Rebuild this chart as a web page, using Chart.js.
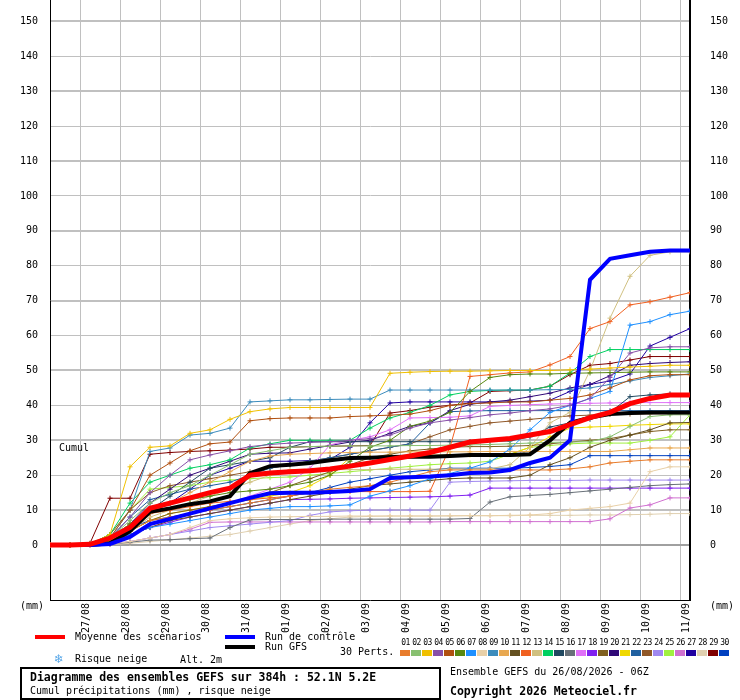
<!DOCTYPE html>
<html><head><meta charset="utf-8">
<script src="https://cdn.jsdelivr.net/npm/chart.js@4.4.1/dist/chart.umd.min.js"></script>
<style>
html,body{margin:0;padding:0;background:#fff;}
#wrap{position:relative;width:740px;height:700px;overflow:hidden;font-family:"DejaVu Sans Mono","Liberation Mono",monospace;font-size:10px;color:#000;background:#fff;}
#c{position:absolute;left:0;top:0;}
.t{position:absolute;white-space:nowrap;line-height:10px;}
.ln{position:absolute;height:4px;width:30px;}
.b{font-weight:bold;font-size:11.5px;line-height:12px;}
#nums{position:absolute;left:400px;top:639px;display:flex;}
#nums div{width:11px;text-align:center;font-size:8px;line-height:8px;letter-spacing:-0.6px;}
#boxes{position:absolute;left:400px;top:650px;display:flex;}
#boxes div{width:10px;height:6px;margin-right:1px;}
#frame{position:absolute;left:20px;top:667px;width:421px;height:33px;box-sizing:border-box;border:2px solid #000;}
</style></head><body>
<div id="wrap">
<canvas id="c" width="740" height="700" style="width:740px;height:700px"></canvas>
<div class="t" style="left:59px;top:443px">Cumul</div>
<div class="t" style="left:20px;top:601px">(mm)</div>
<div class="t" style="left:710px;top:601px">(mm)</div>
<div class="ln" style="left:35px;top:635px;background:#ff0000"></div>
<div class="t" style="left:75px;top:632px">Moyenne des scénarios</div>
<div class="ln" style="left:225px;top:635px;background:#0000ff"></div>
<div class="t" style="left:265px;top:632px">Run de contrôle</div>
<div class="ln" style="left:225px;top:645px;background:#000000"></div>
<div class="t" style="left:265px;top:642px">Run GFS</div>
<div class="t" style="left:340px;top:647px">30 Perts.</div>
<div class="t" style="left:54px;top:653px;font-family:'DejaVu Sans';font-size:12px;line-height:12px;color:#5aa8e8">❄</div>
<div class="t" style="left:75px;top:654px">Risque neige</div>
<div class="t" style="left:180px;top:655px">Alt. 2m</div>
<div id="nums"></div>
<div id="boxes"></div>
<div id="frame"></div>
<div class="t b" style="left:30px;top:671px">Diagramme des ensembles GEFS sur 384h : 52.1N 5.2E</div>
<div class="t" style="left:30px;top:686px">Cumul précipitations (mm) , risque neige</div>
<div class="t" style="left:450px;top:667px">Ensemble GEFS du 26/08/2026 - 06Z</div>
<div class="t b" style="left:450px;top:685px">Copyright 2026 Meteociel.fr</div>
</div>
<script>
const hours=[0,12,24,36,48,60,72,84,96,108,120,132,144,156,168,180,192,204,216,228,240,252,264,276,288,300,312,324,336,348,360,372,384];
const dayTicks=[18,42,66,90,114,138,162,186,210,234,258,282,306,330,354,378];
const dayLabels=['27/08','28/08','29/08','30/08','31/08','01/09','02/09','03/09','04/09','05/09','06/09','07/09','08/09','09/09','10/09','11/09'];
const yTicks=[0,10,20,30,40,50,60,70,80,90,100,110,120,130,140,150];
const memberNames=['01','02','03','04','05','06','07','08','09','10','11','12','13','14','15','16','17','18','19','20','21','22','23','24','25','26','27','28','29','30'];
const memberColors=['#e87c2c','#88c070','#f0c000','#8850a8','#b05010','#588810','#1e90ff','#e8d0a8','#3c8cbc','#e8a850','#645020','#f06020','#d0c080','#00d060','#204860','#687078','#e070f8','#8020f0','#806020','#300878','#f0d800','#2060a0','#905828','#a088f0','#a0f040','#d070d0','#2000a0','#e0d0b0','#800000','#0040c0'];

const meanVals=[0,0,0.2,2,5,10.5,12,13.5,15,16.3,20,20.6,21,21.3,21.8,22.6,23.5,24.5,25.5,26.5,28,29.5,30,30.5,31.5,32.5,34.5,36.5,38,40.5,42,43,43];
const ctrlVals=[0,0,0,0.3,2.3,6,7.5,9,10.5,12,13.5,14.8,15,15,15.2,15.5,16,19.2,19.4,19.6,20,20.6,20.8,21.5,23.5,25,30,76,82,83,84,84.4,84.4];
const gfsVals=[0,0,0,0.5,4,9.5,10.5,11.7,12.5,14,20.6,22.6,23,23.5,24.3,24.9,25,25.2,25.3,25.3,25.5,25.8,25.8,25.8,26,30,35,36.5,37.5,37.8,38,38,38];

const m01=[0,0,0.2,1,4,7,8,9,10,11,12,13,14,15,16,16.5,17,18,19.5,21,21.5,21.5,21.5,21.5,21.5,21.5,21.8,22.4,23.5,24,24.4,24.4,24.4];
const m02=[0,0,0.3,2,7,12,15,17,20,23,26,27,28,28.2,28.3,28.4,28.4,28.4,28.5,28.5,28.6,28.7,28.8,29,29.2,29.4,29.5,29.6,31,34,36.8,37.3,37.3];
const m03=[0,0,0.3,3,22.4,28,28.4,32,33,36,38.2,39,39.4,39.4,39.4,39.4,39.4,49.2,49.5,49.7,49.8,49.8,49.9,50,50,50,50.2,50.4,50.7,51,51.2,51.5,51.5];
const m04=[0,0,0.3,2,8,15,20,24.4,25.8,27,28.2,28.8,29.2,29.4,29.6,30,30.5,31.5,33.5,35,35.8,36.5,37.3,37.8,38.5,39,40,42,48,55,56.5,56.8,56.8];
const m05=[0,0,0.3,2,10,20,23.5,27,29,29.5,35.6,36.2,36.4,36.4,36.4,36.8,37,37.2,37.5,38.5,40,40.5,40.7,41,41,41.5,42,43,45,47.3,48.5,48.8,48.8];
const m06=[0,0,0.2,1.5,6,10,12,13,14,15,15.5,16,17,18,20,24,28,30,34,35.5,38,44,48,48.8,49,49,49.2,49.3,49.4,49.5,49.6,49.6,49.6];
const m07=[0,0,0.2,1,3,5,6,7,8,9,10,10.5,11,11,11.2,11.5,14,15.5,17,19,20.5,22,23.8,27.5,33,38,40,42,44,63,64,66,67];
const m08=[0,0,0,0.2,1,2,3,5,7,7.5,7.8,8,8.1,8.2,8.2,8.3,8.3,8.3,8.3,8.3,8.4,8.4,8.4,8.5,8.6,9,10,10.5,11,12,21,22.4,22.4];
const m09=[0,0,0.2,2,10,26.8,27.8,31.5,32,33.5,41,41.3,41.6,41.6,41.7,41.8,41.8,44.4,44.4,44.4,44.4,44.4,44.4,44.4,44.4,44.5,44.6,45,46,47,48,48.5,49];
const m10=[0,0,0.3,2,6,9,12,15,18,21,24,25.5,26,26.2,26.4,26.5,26.6,26.6,26.7,26.7,26.7,26.7,26.8,26.8,26.8,26.8,26.8,26.8,26.8,27.3,27.8,27.8,27.8];
const m11=[0,0,0.2,1,3,5,7,8,9,10,11,12,13,14,15,16,17,17.5,18,18.5,19,19.2,19.2,19.2,20,23,25,28,30,31.5,33,35,35.1];
const m12=[0,0,0.3,2,5,9,10,11,12,12.5,13,13.5,14,15.3,15.3,15.3,15.3,15.3,15.3,15.4,28,48.3,48.8,49.3,49.6,51.6,54,62,64,68.8,69.7,71,72.3];
const m13=[0,0,0.2,1,4,8,10,12,14,16,18,20,21.6,21.6,21.6,21.6,21.6,21.7,21.7,21.7,21.8,21.8,21.8,23,28,35,38,50,65,77,83,84,84];
const m14=[0,0,0.3,3,12,18,20,22,23,24.4,27.8,29,30,30,30,30,33.5,36.4,38,40,43,44,44.3,44.4,44.4,45.5,49.3,54,56,56,56,56,56];
const m15=[0,0,0.2,2,6,10,14,18,22,23,24,25,28,29.6,29.6,29.6,29.6,29.6,29.6,29.6,29.6,29.6,29.7,29.8,31,33.8,35,36,38,42.5,43,43.3,43.3];
const m16=[0,0,0,0.2,0.8,1.4,1.5,1.8,2,5,7.2,7.3,7.3,7.3,7.4,7.4,7.4,7.4,7.4,7.4,7.4,7.6,12.3,13.8,14.2,14.5,15,15.5,16,16.5,17,17.3,17.5];
const m17=[0,0,0.2,1,3,5,7,9,10,12,14,16,18,22,28.7,30,31,33,36.4,36.5,36.6,37,39.7,40,40.2,40.4,40.5,40.6,40.7,40.8,40.8,40.8,40.8];
const m18=[0,0,0.2,1,3,5,6.5,8,9,10,11,12,13,13.1,13.2,13.4,13.5,13.6,13.7,13.8,14,14.3,16.3,16.3,16.3,16.3,16.3,16.3,16.3,16.3,16.3,16.3,16.3];
const m19=[0,0,0.2,1,4,7,9,10,11,12,13,15,17,19,21,23,25,26,27,27.5,28,28.2,28.2,28.3,28.5,29,29.5,30,30.5,31.5,32.5,33,33];
const m20=[0,0,0.3,2,6,12,16,20,22,24,26,26.3,26.4,27.5,28.5,29.5,30,32,34,35,38.5,40.3,41,41.5,42.5,43.5,45,46,48.5,51.5,52,52.3,52.5];
const m21=[0,0,0.2,1,4,7,9,10,11,12,13,14,15,17,20,25,25.3,25.5,25.6,25.7,25.8,25.8,25.8,26,28,31,33.5,33.8,34,34.3,34.5,34.7,34.7];
const m22=[0,0,0.3,2,8,13,14.5,16,17,18,20,22,23,24,25,26,27,28,29,35,38.2,38.4,38.5,38.5,38.5,38.5,38.5,38.5,38.5,38.5,38.5,38.5,38.5];
const m23=[0,0,0.3,3,10,15,17,18,19,20,21,22,23,24,25,26,27,28,29,31,33,34,35,35.5,36,36.5,37,37.2,37.4,37.5,37.6,37.6,37.6];
const m24=[0,0,0,0.2,1,2,3,4,5,5.5,6,6.5,7,8.5,9.5,9.8,10,10,10,10,18,18.2,18.3,18.4,18.5,18.5,18.5,18.6,18.6,18.6,18.6,18.6,18.6];
const m25=[0,0,0.3,3,10,16,16.5,17,18,18.6,19,19.3,19.5,20,20.5,21,21.5,22,22.5,23,23.3,23.5,24,26,28,28.5,29,29.2,29.2,29.2,30,31,37.3];
const m26=[0,0,0,0.2,1,2,3,4.5,6.5,6.6,6.6,6.6,6.6,6.6,6.6,6.6,6.6,6.6,6.6,6.6,6.7,6.7,6.7,6.7,6.7,6.7,6.7,6.7,7.5,10.6,11.5,13.5,13.5];
const m27=[0,0,0.3,2,5,9,12,16,20,22,24,24,24,24.2,24.5,28,35,40.7,41,41,41,41,41,41,41.2,41.5,44,46,47,49,57,59.5,62];
const m28=[0,0,0,0.1,0.5,1,1.5,2,2.5,3,4,5,6,7,7.5,8,8.2,8.3,8.3,8.3,8.3,8.4,8.4,8.4,8.5,8.5,8.5,8.6,8.6,8.7,8.8,9,9];
const m29=[0,0,0.5,13.4,13.4,26,26.5,26.8,27,27.2,27.5,28,28,28.2,28.3,28.4,28.5,37.8,38.5,39.5,40,40.7,44,44.2,44.4,45.5,48.8,51.5,52,53,54,54,54];
const m30=[0,0,0.3,2,5,7,8,9,10,11,12,13,14,15,16.5,18,19,20,21,21.5,22,22,22,22,22.2,22.5,23,25.6,25.6,25.6,25.6,25.6,25.6];

const members=[m01,m02,m03,m04,m05,m06,m07,m08,m09,m10,m11,m12,m13,m14,m15,m16,m17,m18,m19,m20,m21,m22,m23,m24,m25,m26,m27,m28,m29,m30];

const nums=document.getElementById('nums'), boxes=document.getElementById('boxes');
memberNames.forEach((n,i)=>{
  const d=document.createElement('div'); d.textContent=n; nums.appendChild(d);
  const b=document.createElement('div'); b.style.background=memberColors[i]; boxes.appendChild(b);
});

const FONT={family:'"DejaVu Sans Mono","Liberation Mono",monospace',size:10};
const toPts=v=>hours.map((h,j)=>({x:h,y:v[j]}));
const datasets=[];
datasets.push({label:'Moyenne',data:toPts(meanVals),borderColor:'#ff0000',borderWidth:5,pointRadius:0,order:0});
datasets.push({label:'Controle',data:toPts(ctrlVals),borderColor:'#0000ff',borderWidth:4,pointRadius:0,order:1});
datasets.push({label:'GFS',data:toPts(gfsVals),borderColor:'#000000',borderWidth:4,pointRadius:0,order:2});
members.forEach((v,i)=>{
  datasets.push({label:memberNames[i],data:toPts(v),borderColor:memberColors[i],backgroundColor:memberColors[i],
    borderWidth:1,pointStyle:'cross',pointRadius:2.5,pointBorderWidth:1,pointBorderColor:memberColors[i],order:10+i});
});

const yMin=-15.76, yMax=156.16;
const gridW=c=>{const v=c.tick?c.tick.value:1; return (v===0||(Math.round(v/10)%2===1))?2:1;};
const gridC=c=>{const v=c.tick?c.tick.value:1; return v===0?'#a0a0a0':'#c0c0c0';};

new Chart(document.getElementById('c'),{
  type:'line',
  data:{datasets},
  options:{
    responsive:false,animation:false,devicePixelRatio:1,
    layout:{padding:0,autoPadding:false},
    elements:{line:{tension:0}},
    plugins:{legend:{display:false},tooltip:{enabled:false}},
    scales:{
      x:{type:'linear',min:0,max:384,
        afterBuildTicks:a=>{a.ticks=dayTicks.map(v=>({value:v}));},
        ticks:{callback:v=>dayLabels[dayTicks.indexOf(v)],minRotation:90,maxRotation:90,autoSkip:false,padding:3,labelOffset:6,font:FONT,color:'#000'},
        grid:{color:'#c0c0c0',lineWidth:1,drawTicks:false},
        border:{color:'#000',width:1},
        afterFit:s=>{s.height=100;s.paddingLeft=0;s.paddingRight=0;}
      },
      y:{position:'left',min:yMin,max:yMax,
        afterBuildTicks:a=>{a.ticks=yTicks.map(v=>({value:v}));},
        ticks:{padding:12,font:FONT,color:'#000'},
        grid:{color:gridC,lineWidth:gridW,drawTicks:false},
        border:{color:'#000',width:1},
        afterFit:s=>{s.width=50;s.paddingTop=0;s.paddingBottom=0;}
      },
      y2:{position:'right',min:yMin,max:yMax,
        afterBuildTicks:a=>{a.ticks=yTicks.map(v=>({value:v}));},
        ticks:{padding:20,font:FONT,color:'#000'},
        grid:{display:false,drawTicks:false},
        border:{color:'#000',width:2},
        afterFit:s=>{s.width=50;s.paddingTop=0;s.paddingBottom=0;}
      }
    }
  }
});
</script>
</body></html>
